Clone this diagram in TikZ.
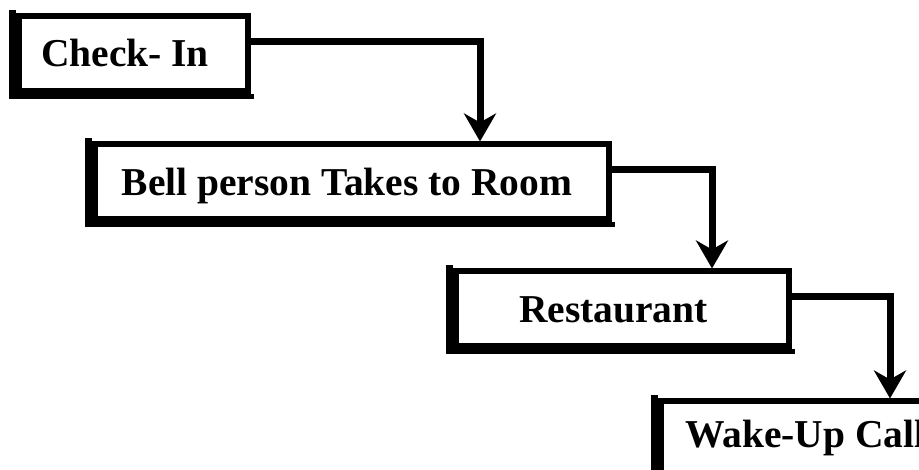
\documentclass[tikz,border=0pt]{standalone}
\usepackage{fontspec}
\setmainfont{Liberation Serif}
\usetikzlibrary{arrows.meta,calc}

\tikzset{
  stagebox/.style={
    draw=black, fill=white, line width=6pt, rectangle,
    minimum height=75pt, inner sep=0pt
  },
  heavyedge/.style={fill=black},
  stagelabel/.style={
    inner sep=0pt, text height=26.1pt, text depth=0pt,
    font=\fontsize{39.5}{47}\selectfont\bfseries
  },
  flow/.style={
    line width=7pt, line join=miter,
    -{Stealth[length=28pt, width=32pt, inset=9pt]}
  }
}

\begin{document}
\begin{tikzpicture}[x=1pt, y=1pt]
  \path[use as bounding box] (0,0) rectangle (919,470);
  \fill[white] (0,0) rectangle (919,470);
  \clip (0,0) rectangle (919,470);

  % stage boxes
  \node[stagebox, minimum width=229.5pt] (checkin) at (133.25,416.5) {};
  \node[stagebox, minimum width=514.5pt] (bell)    at (351.75,288) {};
  \node[stagebox, minimum width=333.5pt] (rest)    at (622.25,161) {};
  \node[stagebox, minimum width=291pt]   (wake)    at (806,31) {};

  % heavier left and bottom edges of every box
  \foreach \b in {checkin,bell,rest,wake} {
    \fill[heavyedge] ([shift={(-6.5pt,-5pt)}]\b.south west) rectangle ([shift={(0pt,3pt)}]\b.north west);
    \fill[heavyedge] ([shift={(-6.5pt,-5pt)}]\b.south west) rectangle ([shift={(3pt,0pt)}]\b.south east);
  }

  % stage labels
  \node[stagelabel] (checkin-t) at (125,416.5) {Check- In};
  \node[stagelabel] (bell-t)    at (347,288)   {Bell person Takes to Room};
  \node[stagelabel] (rest-t)    at (613.5,161) {Restaurant};
  \node[stagelabel, anchor=west] (wake-t) at (685,36) {Wake-Up Call};

  % drop-down columns of the connectors
  \coordinate (c1) at (480,0);
  \coordinate (c2) at (712,0);
  \coordinate (c3) at (890,0);

  % connectors
  \draw[flow] ([yshift=12pt]checkin.east) -| (c1 |- bell.north);
  \draw[flow] ([yshift=12pt]bell.east)    -| (c2 |- rest.north);
  \draw[flow] ([yshift=12pt]rest.east)    -| (c3 |- wake.north);
\end{tikzpicture}
\end{document}
